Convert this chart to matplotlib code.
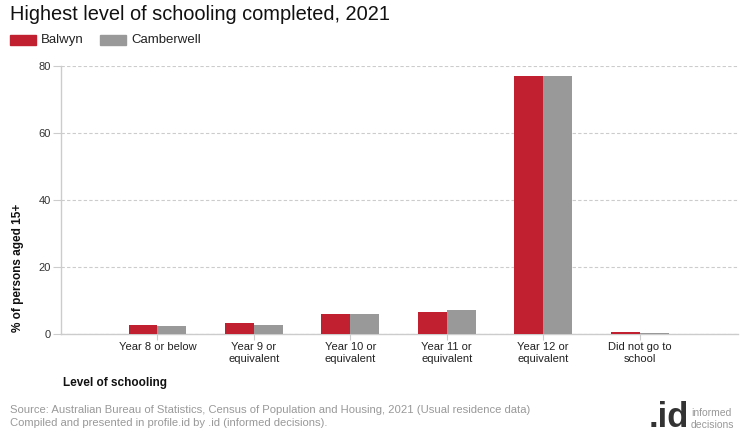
import matplotlib
matplotlib.use("Agg")
import matplotlib.pyplot as plt
import numpy as np
from matplotlib.patches import Rectangle

categories = ["Year 8 or below", "Year 9 or\nequivalent", "Year 10 or\nequivalent",
              "Year 11 or\nequivalent", "Year 12 or\nequivalent", "Did not go to\nschool"]
balwyn = [2.7, 3.3, 6.0, 6.6, 77.0, 0.6]
camberwell = [2.4, 2.7, 6.0, 7.2, 77.0, 0.3]
yticks = [0, 20, 40, 60, 80]

RED = "#C0202F"
GRAY = "#999999"
plt.rcParams['font.family'] = ['Liberation Sans', 'DejaVu Sans']

W, H = 740, 440
fig = plt.figure(figsize=(W/100, H/100), dpi=100)
ax = fig.add_axes([61/W, 1-334/H, (738-61)/W, (334-66)/H])

x = np.arange(len(categories))
bw = 0.3
ax.bar(x - bw/2, balwyn, bw, color=RED, zorder=3)
ax.bar(x + bw/2, camberwell, bw, color=GRAY, zorder=3)

ax.set_xlim(-1.0, 6.02)
ax.set_ylim(0, 80)
ax.set_yticks(yticks)
ax.set_yticklabels([str(v) for v in yticks], fontsize=8, color="#333333")
ax.set_xticks(x)
ax.set_xticklabels(categories, fontsize=8, color="#222222", linespacing=1.25)
ax.yaxis.grid(True, linestyle=(0, (3, 2)), color="#cccccc", linewidth=0.8, zorder=0)
for s in ["top", "right"]:
    ax.spines[s].set_visible(False)
for s in ["left", "bottom"]:
    ax.spines[s].set_color("#cccccc")
    ax.spines[s].set_linewidth(1)
ax.tick_params(axis="y", length=6, color="#cccccc", pad=1.5)
ax.tick_params(axis="x", length=4, color="#cccccc", pad=1.5)

fig.text(10/W, 1-14/H, "Highest level of schooling completed, 2021", fontsize=14.4,
         color="#111111", va="center", ha="left")
# legend
fig.patches.append(Rectangle((10/W, 1-45/H), 26/W, 10/H, transform=fig.transFigure, color=RED))
fig.text(41/W, 1-40/H, "Balwyn", fontsize=9.5, va="center", color="#222222")
fig.patches.append(Rectangle((100/W, 1-45/H), 26/W, 10/H, transform=fig.transFigure, color=GRAY))
fig.text(131/W, 1-40/H, "Camberwell", fontsize=9.5, va="center", color="#222222")

fig.text(18/W, 1-268/H, "% of persons aged 15+", rotation=90, fontsize=8.5,
         fontweight="bold", va="center", ha="center", color="#111111")
fig.text(63/W, 1-383/H, "Level of schooling", fontsize=8.5, fontweight="bold",
         va="center", ha="left", color="#111111")

fig.text(10/W, 1-410/H, "Source: Australian Bureau of Statistics, Census of Population and Housing, 2021 (Usual residence data)",
         fontsize=8.1, color="#999999", va="center")
fig.text(10/W, 1-423/H, "Compiled and presented in profile.id by .id (informed decisions).",
         fontsize=8.1, color="#999999", va="center")

fig.text(689/W, 1-417/H, ".id", fontsize=25, fontweight="bold", color="#333333",
         ha="right", va="center")
fig.text(691/W, 1-413/H, "informed", fontsize=7.5, color="#999999", va="center")
fig.text(691/W, 1-425/H, "decisions", fontsize=7.5, color="#999999", va="center")

fig.savefig("out.png", dpi=100)
